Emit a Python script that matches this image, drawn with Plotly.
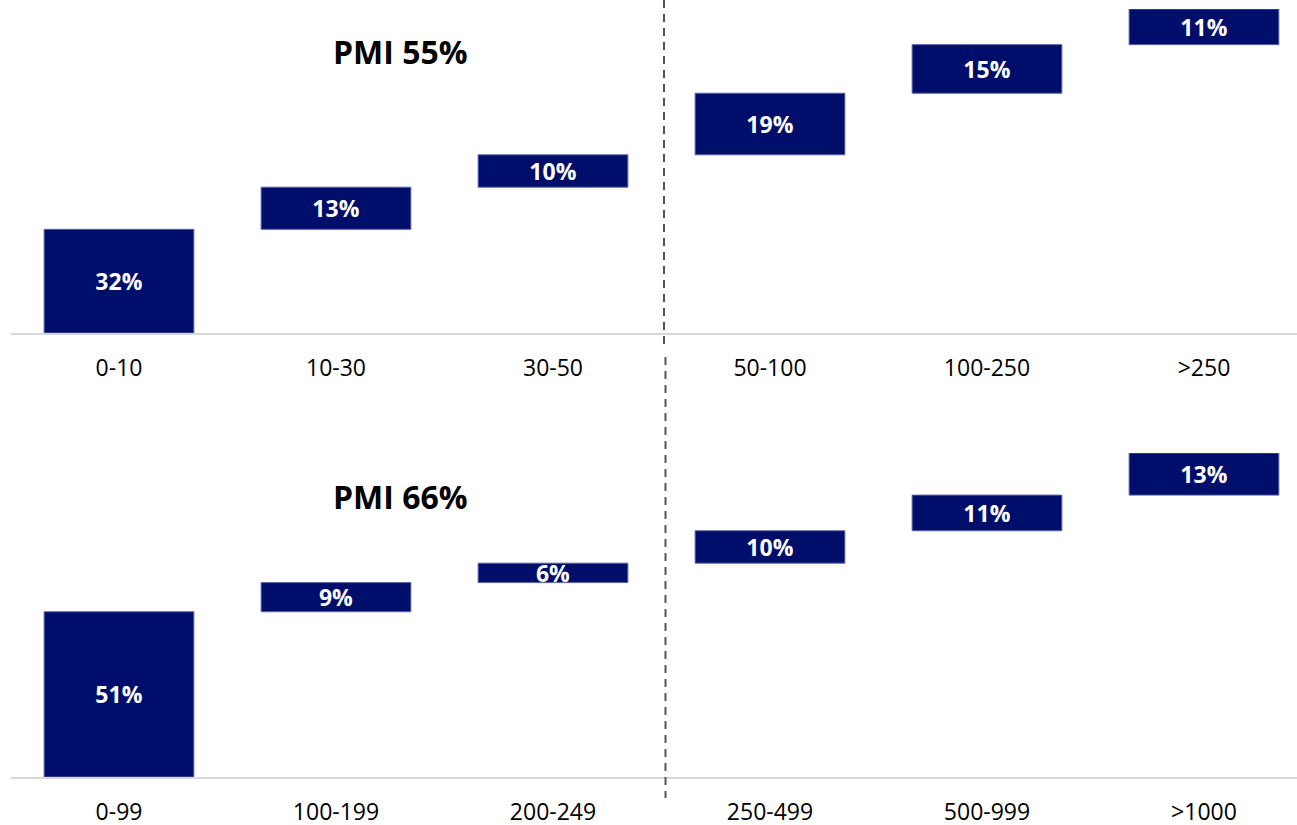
import plotly.graph_objects as go

# Share of companies by size band (cumulative waterfall), two surveys
top_cats = ["0-10", "10-30", "30-50", "50-100", "100-250", ">250"]
top_vals = [32, 13, 10, 19, 15, 11]
top_title = "PMI 55%"

bot_cats = ["0-99", "100-199", "200-249", "250-499", "500-999", ">1000"]
bot_vals = [51, 9, 6, 10, 11, 13]
bot_title = "PMI 66%"

NAVY = "#000e6b"
EDGE = "#5b64a6"
FONT = "Open Sans"
W, H = 1297, 825


def waterfall(cats, vals, xa, ya):
    return go.Waterfall(
        x=cats,
        y=vals,
        measure=["relative"] * len(vals),
        text=[f"{v}%" for v in vals],
        textposition="inside",
        insidetextanchor="middle",
        constraintext="none",
        textfont=dict(family=FONT, size=23, color="white", weight="bold"),
        increasing=dict(marker=dict(color=NAVY, line=dict(color=EDGE, width=1))),
        connector=dict(visible=False),
        width=0.69,
        xaxis=xa,
        yaxis=ya,
        showlegend=False,
        hoverinfo="skip",
    )


fig = go.Figure()
fig.add_trace(waterfall(top_cats, top_vals, "x", "y"))
fig.add_trace(waterfall(bot_cats, bot_vals, "x2", "y2"))


def px_y(py):
    return (H - py) / H


x_dom = [10.5 / W, 1.0]
x_rng = [-0.5, 5.4286]

xaxis_style = dict(
    domain=x_dom,
    range=x_rng,
    automargin=False,
    showgrid=False,
    zeroline=False,
    showline=True,
    linecolor="#d9d9d9",
    linewidth=2,
    ticks="",
    ticklabelstandoff=13,
    tickfont=dict(family=FONT, size=23, color="black"),
    fixedrange=True,
)
yaxis_style = dict(
    range=[0, 100],
    visible=False,
    automargin=False,
    showgrid=False,
    zeroline=False,
    fixedrange=True,
)

fig.update_layout(
    template="none",
    width=W,
    height=H,
    margin=dict(l=0, r=0, t=0, b=0, pad=0),
    paper_bgcolor="white",
    plot_bgcolor="white",
    font=dict(family=FONT),
    xaxis=dict(**xaxis_style, anchor="y"),
    yaxis=dict(**yaxis_style, domain=[px_y(333), px_y(9)], anchor="x"),
    xaxis2=dict(**xaxis_style, anchor="y2"),
    yaxis2=dict(**yaxis_style, domain=[px_y(777), px_y(453)], anchor="x2"),
    annotations=[
        dict(text=f"<b>{top_title}</b>", x=400 / W, y=px_y(52), xref="paper", yref="paper",
             xanchor="center", yanchor="middle",
             showarrow=False, font=dict(family=FONT, size=32, color="black")),
        dict(text=f"<b>{bot_title}</b>", x=400 / W, y=px_y(496), xref="paper", yref="paper",
             xanchor="center", yanchor="middle",
             showarrow=False, font=dict(family=FONT, size=32, color="black")),
    ],
    shapes=[
        dict(type="line", xref="paper", yref="paper", x0=664 / W, x1=664 / W,
             y0=px_y(0), y1=px_y(344), line=dict(color="#555555", width=2, dash="8px,6px")),
        dict(type="line", xref="paper", yref="paper", x0=665.5 / W, x1=665.5 / W,
             y0=px_y(357), y1=px_y(798), line=dict(color="#555555", width=2, dash="8px,6px")),
    ],
)

fig.write_html("out.html")
